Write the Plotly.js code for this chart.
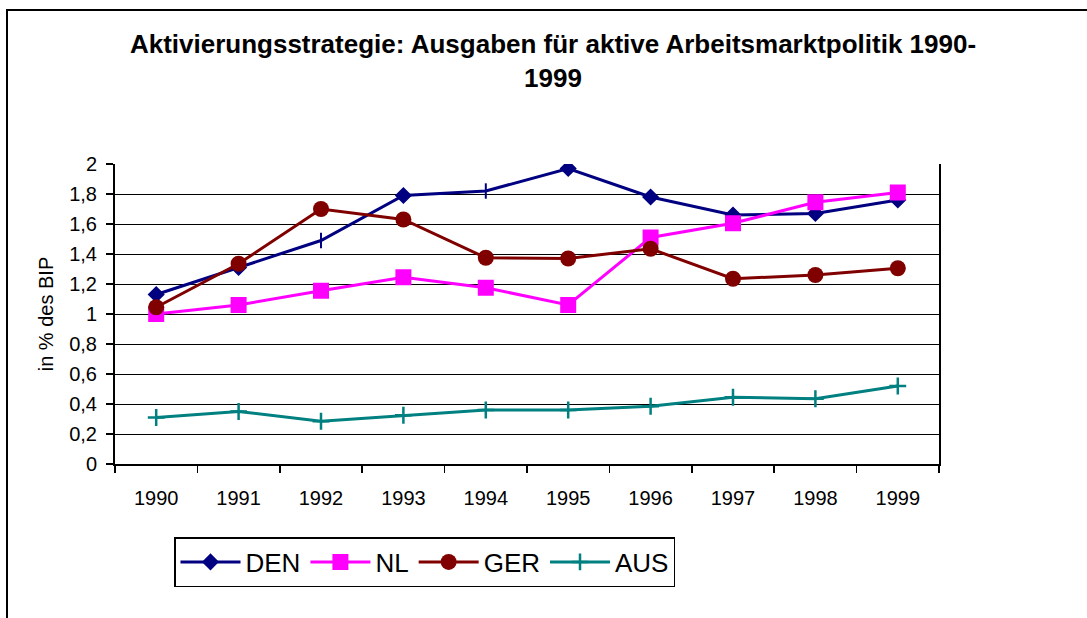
<!DOCTYPE html>
<html>
<head>
<meta charset="utf-8">
<script src="https://cdn.plot.ly/plotly-3.0.1.min.js"></script>
<style>
  html, body { margin: 0; padding: 0; background: #fff; }
  #chart { width: 1087px; height: 618px; }
</style>
</head>
<body>
<div id="chart"></div>
<script>
// ---- Data ----
const years = ['1990','1991','1992','1993','1994','1995','1996','1997','1998','1999'];
const den = [1.13, 1.31, 1.49, 1.79, 1.82, 1.97, 1.78, 1.66, 1.67, 1.76];
const nl  = [1.00, 1.06, 1.155, 1.245, 1.175, 1.06, 1.51, 1.605, 1.745, 1.81];
const ger = [1.045, 1.335, 1.70, 1.63, 1.375, 1.37, 1.435, 1.235, 1.26, 1.305];
const aus = [0.31, 0.35, 0.285, 0.325, 0.36, 0.36, 0.385, 0.445, 0.435, 0.52];
const seriesNames = ['DEN', 'NL', 'GER', 'AUS'];
const titleText = 'Aktivierungsstrategie: Ausgaben für aktive Arbeitsmarktpolitik 1990-<br>1999';
const yTitle = 'in % des BIP';

// marker symbols of DEN (two points show a plain tick in the reference)
const denSymbols = ['diamond','diamond','line-ns','diamond','line-ns','diamond','diamond','diamond','diamond','diamond'];

const FONT = '"Liberation Sans", Arial, Helvetica, sans-serif';

const traces = [
  {
    x: years, y: den, name: seriesNames[0], type: 'scatter', mode: 'lines+markers',
    line: {color: '#000080', width: 3},
    marker: {symbol: denSymbols, size: 11, color: '#000080', line: {color: '#000080', width: 2}}
  },
  {
    x: years, y: nl, name: seriesNames[1], type: 'scatter', mode: 'lines+markers',
    line: {color: '#FF00FF', width: 3},
    marker: {symbol: 'square', size: 16, color: '#FF00FF'}
  },
  {
    x: years, y: ger, name: seriesNames[2], type: 'scatter', mode: 'lines+markers',
    line: {color: '#800000', width: 3},
    marker: {symbol: 'circle', size: 16, color: '#800000'}
  },
  {
    x: years, y: aus, name: seriesNames[3], type: 'scatter', mode: 'lines+markers',
    line: {color: '#008080', width: 3},
    marker: {symbol: 'cross-thin', size: 12, color: '#008080', line: {color: '#008080', width: 2.5}}
  }
];

// plot area in pixels: x 115..939, y 164..464
const L = 115, R = 939, T = 164, B = 464;
const px = v => (v - L) / (R - L);
const py = v => (B - v) / (B - T);

const layout = {
  width: 1087, height: 618,
  margin: {l: L, r: 1087 - R, t: T, b: 618 - B, pad: 0},
  paper_bgcolor: '#fff', plot_bgcolor: '#fff',
  font: {family: FONT, size: 20, color: '#000'},
  separators: ',.',
  title: {
    text: titleText,
    font: {family: FONT, size: 26, color: '#000', weight: 'bold'},
    xref: 'container', yref: 'container',
    x: 553 / 1087, xanchor: 'center',
    y: 1 - 53 / 618, yanchor: 'top'
  },
  showlegend: true,
  legend: {
    orientation: 'h',
    x: px(174), xanchor: 'left',
    y: py(537), yanchor: 'top',
    bordercolor: '#000', borderwidth: 1.5,
    bgcolor: '#fff',
    font: {family: FONT, size: 26, color: '#000'},
    itemwidth: 60,
    traceorder: 'normal'
  },
  xaxis: {
    type: 'category',
    categoryorder: 'array', categoryarray: years,
    range: [-0.5, 9.5],
    showgrid: false, zeroline: false,
    showline: true, linecolor: '#000', linewidth: 2,
    ticks: 'outside', tickson: 'boundaries', ticklen: 7, tickwidth: 1.5, tickcolor: '#000',
    ticklabelstandoff: 15,
    tickfont: {family: FONT, size: 20, color: '#000'},
    fixedrange: true
  },
  yaxis: {
    range: [0, 2], tick0: 0, dtick: 0.2,
    showgrid: true, gridcolor: '#000', gridwidth: 1,
    zeroline: false,
    showline: true, linecolor: '#000', linewidth: 2, mirror: true,
    ticks: 'outside', ticklen: 7, tickwidth: 1.5, tickcolor: '#000',
    ticklabelstandoff: 5,
    tickfont: {family: FONT, size: 20, color: '#000'},
    title: {text: yTitle, font: {family: FONT, size: 20, color: '#000'}, standoff: 10},
    fixedrange: true
  },
  shapes: [
    {
      type: 'path', xref: 'paper', yref: 'paper',
      path: 'M ' + px(7) + ' ' + py(625) + ' L ' + px(7) + ' ' + py(10) + ' L ' + px(1095) + ' ' + py(10),
      line: {color: '#000', width: 2}
    }
  ]
};

Plotly.newPlot('chart', traces, layout, {staticPlot: true, displayModeBar: false});
</script>
</body>
</html>
